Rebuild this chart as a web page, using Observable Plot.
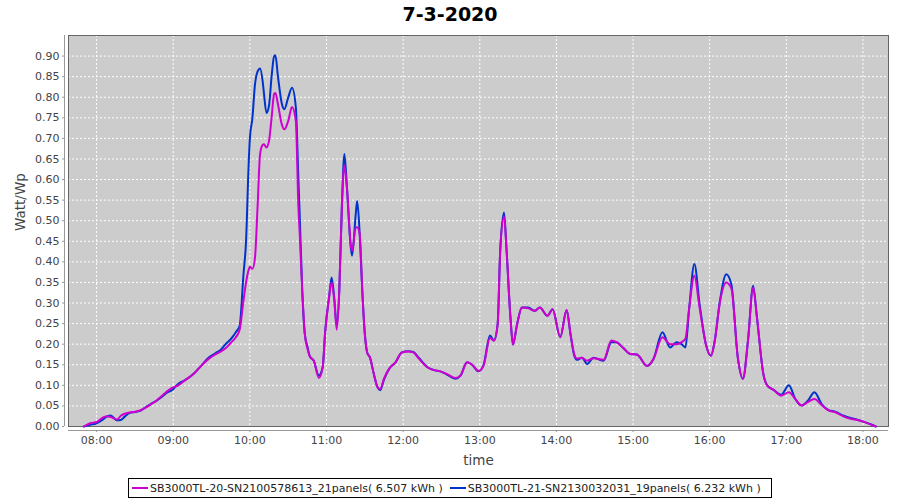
<!DOCTYPE html>
<html>
<head>
<meta charset="utf-8">
<script src="https://cdn.jsdelivr.net/npm/d3@7"></script>
<script src="https://cdn.jsdelivr.net/npm/@observablehq/plot@0.6"></script>
<style>
  body { margin: 0; background: #fff; width: 900px; height: 500px; position: relative; font-family: "DejaVu Sans", sans-serif; overflow: hidden; }
  #title { position: absolute; left: 0; top: 0; width: 900px; height: 28px; line-height: 28px; text-align: center; font-weight: bold; font-size: 19px; color: #000; }
  #chart { position: absolute; left: 0; top: 30px; }
  #legend { position: absolute; left: 128px; top: 478px; width: 642px; height: 18px; border: 1px solid #000; display: flex; align-items: center; font-size: 11px; color: #222; white-space: nowrap; }
  .sw { display: inline-block; width: 16px; height: 2px; margin: 0 2px 0 3px; }
  .item { display: flex; align-items: center; margin-right: 4px; }
</style>
</head>
<body>
<div id="title"></div>
<div id="chart"></div>
<div id="legend"></div>
<script>
const chartTitle = "7-3-2020";
const seriesNames = [
  "SB3000TL-20-SN2100578613_21panels( 6.507 kWh )",
  "SB3000TL-21-SN2130032031_19panels( 6.232 kWh )"
];
const seriesColors = ["#d000d0", "#0033cc"];

const times = [
  "07:50","07:55","08:00","08:04","08:08","08:11","08:16","08:19","08:22","08:26",
  "08:30","08:34","08:38","08:42","08:47","08:51","08:55","08:59","09:04","09:09",
  "09:16","09:22","09:28","09:33","09:37","09:41","09:45","09:49","09:52","09:55",
  "09:57","09:59","10:00","10:02","10:04","10:06","10:08","10:10","10:11","10:13",
  "10:15","10:17","10:19","10:20","10:22","10:25","10:27","10:30","10:33","10:36",
  "10:38","10:39","10:41","10:43","10:45","10:47","10:50","10:54","10:57","10:59",
  "11:02","11:04","11:06","11:08","11:10","11:12","11:14","11:16","11:19","11:20",
  "11:23","11:24","11:26","11:28","11:30","11:32","11:34","11:37","11:40","11:42",
  "11:45","11:49","11:54","11:59","12:04","12:08","12:12","12:19","12:24","12:29",
  "12:34","12:41","12:45","12:50","12:54","12:59","13:03","13:08","13:11","13:14",
  "13:16","13:19","13:21","13:24","13:26","13:29","13:33","13:38","13:43","13:47",
  "13:53","13:57","14:03","14:08","14:11","14:14","14:16","14:20","14:24","14:29",
  "14:37","14:43","14:47","14:52","14:58","15:03","15:11","15:16","15:23","15:29",
  "15:34","15:38","15:41","15:44","15:48","15:52","15:57","16:01","16:04","16:08",
  "16:13","16:17","16:22","16:26","16:30","16:34","16:37","16:42","16:45","16:50",
  "16:56","17:02","17:07","17:12","17:17","17:22","17:28","17:33","17:38","17:45",
  "17:51","17:56","18:02","18:08","18:10"
];

const sb20 = [
  0.000,0.008,0.011,0.020,0.025,0.023,0.017,0.026,0.031,0.034,
  0.036,0.039,0.045,0.053,0.063,0.074,0.085,0.094,0.100,0.112,
  0.128,0.148,0.165,0.175,0.182,0.190,0.203,0.217,0.235,0.306,
  0.350,0.380,0.388,0.383,0.410,0.532,0.662,0.684,0.686,0.678,
  0.694,0.750,0.808,0.810,0.783,0.734,0.722,0.742,0.776,0.742,
  0.532,0.470,0.330,0.225,0.190,0.170,0.160,0.118,0.144,0.230,
  0.314,0.350,0.310,0.235,0.330,0.532,0.635,0.580,0.440,0.427,
  0.484,0.484,0.467,0.330,0.225,0.178,0.168,0.128,0.095,0.091,
  0.116,0.140,0.156,0.180,0.182,0.180,0.166,0.144,0.137,0.134,
  0.128,0.118,0.124,0.156,0.150,0.135,0.148,0.215,0.209,0.249,
  0.427,0.510,0.427,0.265,0.199,0.245,0.289,0.287,0.281,0.289,
  0.269,0.285,0.217,0.283,0.225,0.175,0.165,0.167,0.160,0.166,
  0.162,0.209,0.205,0.192,0.176,0.175,0.147,0.164,0.217,0.200,
  0.200,0.205,0.213,0.289,0.366,0.290,0.200,0.172,0.209,0.302,
  0.350,0.335,0.168,0.116,0.209,0.338,0.265,0.128,0.100,0.089,
  0.075,0.083,0.067,0.051,0.060,0.067,0.051,0.039,0.035,0.024,
  0.018,0.016,0.010,0.002,0.000
];

const sb21 = [
  0.000,0.004,0.008,0.015,0.024,0.027,0.015,0.016,0.024,0.033,
  0.035,0.038,0.046,0.054,0.063,0.072,0.082,0.088,0.104,0.112,
  0.128,0.148,0.168,0.178,0.186,0.200,0.212,0.229,0.245,0.370,
  0.450,0.633,0.700,0.750,0.831,0.862,0.870,0.839,0.810,0.762,
  0.780,0.850,0.900,0.902,0.850,0.785,0.771,0.799,0.823,0.775,
  0.600,0.516,0.330,0.225,0.195,0.170,0.160,0.124,0.144,0.233,
  0.314,0.362,0.314,0.245,0.330,0.532,0.662,0.580,0.435,0.415,
  0.520,0.548,0.467,0.330,0.225,0.178,0.168,0.128,0.095,0.088,
  0.114,0.140,0.156,0.180,0.183,0.181,0.168,0.144,0.137,0.134,
  0.127,0.116,0.124,0.156,0.150,0.134,0.150,0.221,0.209,0.249,
  0.427,0.520,0.427,0.265,0.199,0.245,0.289,0.289,0.281,0.289,
  0.269,0.285,0.217,0.283,0.225,0.172,0.162,0.167,0.152,0.167,
  0.160,0.205,0.205,0.192,0.176,0.175,0.147,0.164,0.229,0.192,
  0.205,0.200,0.192,0.289,0.395,0.300,0.200,0.172,0.209,0.305,
  0.370,0.345,0.168,0.116,0.209,0.342,0.265,0.128,0.100,0.089,
  0.077,0.100,0.067,0.051,0.063,0.083,0.053,0.040,0.036,0.026,
  0.020,0.016,0.010,0.003,0.000
];

const xTickLabels = ["08:00","09:00","10:00","11:00","12:00","13:00","14:00","15:00","16:00","17:00","18:00"];
const yTicks = d3.range(0, 19).map(i => +(i * 0.05).toFixed(2));
const xDomain = ["07:38", "18:20"];
const yDomain = [0, 0.95];
const xLabel = "time";
const yLabel = "Watt/Wp";

const toDate = s => { const [h, m] = s.split(":").map(Number); return new Date(Date.UTC(2020, 2, 7, h, m)); };

const rows20 = times.map((t, i) => ({ t: toDate(t), v: sb20[i] }));
const rows21 = times.map((t, i) => ({ t: toDate(t), v: sb21[i] }));

document.getElementById("title").textContent = chartTitle;

const chart = Plot.plot({
  width: 900,
  height: 445,
  marginTop: 5,
  marginBottom: 49,
  marginLeft: 68,
  marginRight: 12,
  style: { fontFamily: "DejaVu Sans, sans-serif", fontSize: "11px", color: "#444", background: "transparent" },
  x: { type: "utc", domain: xDomain.map(toDate), label: null },
  y: { domain: yDomain, label: null },
  marks: [
    Plot.frame({ fill: "#cccccc", stroke: "none" }),
    Plot.gridX(xTickLabels.map(toDate), { stroke: "#ffffff", strokeOpacity: 1, strokeDasharray: "2,2", strokeWidth: 1 }),
    Plot.gridY(yTicks, { stroke: "#ffffff", strokeOpacity: 1, strokeDasharray: "2,2", strokeWidth: 1 }),
    Plot.frame({ stroke: "#666666", strokeWidth: 1 }),
    Plot.ruleY([0], { dy: 4, stroke: "#999" }),
    Plot.ruleX([toDate(xDomain[0])], { dx: -4, stroke: "#999" }),
    Plot.axisX(xTickLabels.map(toDate), { tickFormat: d3.utcFormat("%H:%M"), tickSize: 2, dy: 4, tickPadding: 4, stroke: "#999", fill: "#444" }),
    Plot.axisY(yTicks, { tickFormat: d3.format(".2f"), tickSize: 2, dx: -4, tickPadding: 3, stroke: "#999", fill: "#444" }),
    Plot.line(rows21, { x: "t", y: "v", stroke: seriesColors[1], strokeWidth: 2, curve: "monotone-x" }),
    Plot.line(rows20, { x: "t", y: "v", stroke: seriesColors[0], strokeWidth: 2, curve: "monotone-x" }),
    Plot.text([xLabel], { frameAnchor: "bottom", dy: 34, fontSize: 13.5, fill: "#444", lineAnchor: "middle" }),
    Plot.text([yLabel], { frameAnchor: "left", dx: -48, rotate: -90, fontSize: 13.5, fill: "#444", lineAnchor: "middle" })
  ]
});
document.getElementById("chart").appendChild(chart);

const legend = document.getElementById("legend");
seriesNames.forEach((name, i) => {
  const item = document.createElement("span");
  item.className = "item";
  const sw = document.createElement("span");
  sw.className = "sw";
  sw.style.background = seriesColors[i];
  const tx = document.createElement("span");
  tx.textContent = name;
  item.appendChild(sw);
  item.appendChild(tx);
  legend.appendChild(item);
});
</script>
</body>
</html>
